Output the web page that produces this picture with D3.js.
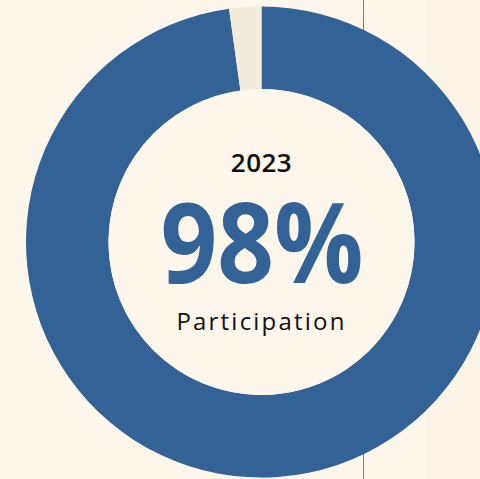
<!DOCTYPE html>
<html><head><meta charset="utf-8">
<script src="https://cdn.jsdelivr.net/npm/d3@7"></script>
<style>html,body{margin:0;padding:0;background:#fdf6ea;}svg{display:block;}</style>
</head><body>
<svg id="c" width="480" height="479"></svg>
<script>
const categories = ["Participated", "Did not participate"];
const values = [97.8, 2.2];
const colors = ["#336296", "#f1ebdb"];
const year = "2023";
const headline = "98%";
const caption = "Participation";

const svg = d3.select("#c");
const W = 480, H = 479;
svg.append("rect").attr("width", W).attr("height", H).attr("fill", "#fdf6ea");
svg.append("rect").attr("x", 425).attr("width", W - 425).attr("height", H).attr("fill", "#fcf4e7");
svg.append("line").attr("x1", 363.5).attr("x2", 363.5).attr("y1", 0).attr("y2", H)
  .attr("stroke", "#8a7d5e").attr("stroke-width", 1);

const cx = 261.5, cy = 242, rO = 235.5, rI = 153;
const pie = d3.pie().sort(null).value(d => d)(values);
const arc = d3.arc().innerRadius(rI).outerRadius(rO);
const g = svg.append("g").attr("transform", `translate(${cx},${cy})`);
g.selectAll("path").data(pie).join("path").attr("d", arc).attr("fill", (d, i) => colors[i]);
g.append("circle").attr("r", rI).attr("fill", "#fdf6ea");

g.append("text").attr("y", -70).attr("text-anchor", "middle")
  .attr("font-family", "'Open Sans', sans-serif").attr("font-weight", 600)
  .attr("font-size", 26).attr("fill", "#111").attr("letter-spacing", 0.5).text(year);
g.append("text").attr("x", -101).attr("y", 41)
  .attr("font-family", "'Open Sans', sans-serif").attr("font-weight", 700)
  .attr("font-size", 112).attr("fill", "#336296")
  .attr("textLength", 203).attr("lengthAdjust", "spacingAndGlyphs").text(headline);
g.append("text").attr("y", 88).attr("text-anchor", "middle")
  .attr("font-family", "'Open Sans', sans-serif").attr("font-weight", 400)
  .attr("font-size", 24).attr("fill", "#111").attr("letter-spacing", 2.2).text(caption);
</script>
</body></html>
